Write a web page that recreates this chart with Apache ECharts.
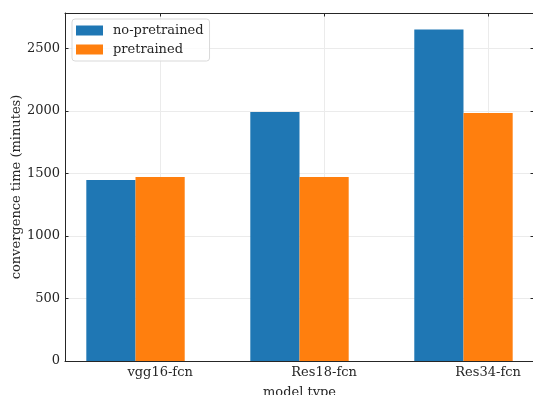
<!DOCTYPE html>
<html>
<head>
<meta charset="utf-8">
<script src="https://cdn.jsdelivr.net/npm/echarts@6/dist/echarts.min.js"></script>
<style>html,body{margin:0;padding:0;background:#fff}#c{width:533px;height:395px}</style>
</head>
<body>
<div id="c"></div>
<script>
const categories = ['vgg16-fcn', 'Res18-fcn', 'Res34-fcn'];
const noPretrained = [1447, 1990, 2651];
const pretrained = [1471, 1471, 1982];
const yTicks = [0, 500, 1000, 1500, 2000, 2500];
const seriesNames = ['no-pretrained', 'pretrained'];

const FONT = 'DejaVu Serif';
const TXT = '#262626';
const xIdx = categories.map((c, i) => i);
const yMax = 2782;
const xMin = -0.58, xMax = 2.28;

const chart = echarts.init(document.getElementById('c'), null, {renderer: 'canvas'});
const axisLine = {show: true, onZero: false, lineStyle: {color: '#262626', width: 1}};
chart.setOption({
  animation: false,
  textStyle: {fontFamily: FONT},
  grid: {left: 65, right: -1, top: 13, bottom: 34, containLabel: false, outerBoundsMode: 'none'},
  legend: {
    left: 72, top: 19, orient: 'vertical',
    data: seriesNames,
    itemWidth: 27, itemHeight: 10, itemGap: 6,
    padding: [5, 6, 5, 4],
    borderColor: '#d9d9d9', borderWidth: 1, borderRadius: 3,
    backgroundColor: 'rgba(255,255,255,0.8)',
    icon: 'rect',
    textStyle: {fontFamily: FONT, fontSize: 13, color: TXT, padding: [0, 0, 0, 5]}
  },
  xAxis: [{
    type: 'value', min: xMin, max: xMax, position: 'bottom',
    name: 'model type', nameLocation: 'middle', nameGap: 25, nameMoveOverlap: false,
    nameTextStyle: {fontFamily: FONT, fontSize: 13, color: TXT},
    axisLine: axisLine,
    axisTick: {show: true, inside: true, length: 3.5, customValues: xIdx, lineStyle: {color: '#262626'}},
    axisLabel: {show: true, customValues: xIdx, margin: 5, fontFamily: FONT, fontSize: 13, color: TXT,
      formatter: v => categories[Math.round(v)] || ''},
    splitLine: {show: true, lineStyle: {color: '#ebebeb', width: 1}}
  }, {
    type: 'value', min: xMin, max: xMax, position: 'top',
    axisLine: axisLine,
    axisTick: {show: true, inside: true, length: 3.5, customValues: xIdx, lineStyle: {color: '#262626'}},
    axisLabel: {show: false},
    splitLine: {show: false}
  }],
  yAxis: [{
    type: 'value', min: 0, max: yMax, position: 'left',
    name: 'convergence time (minutes)', nameLocation: 'middle', nameGap: 42, nameMoveOverlap: false,
    nameTextStyle: {fontFamily: FONT, fontSize: 13, color: TXT},
    axisLine: axisLine,
    axisTick: {show: true, inside: true, length: 3.5, customValues: yTicks, lineStyle: {color: '#262626'}},
    axisLabel: {show: true, customValues: yTicks, margin: 5, fontFamily: FONT, fontSize: 13, color: TXT,
      formatter: v => String(v)},
    splitLine: {show: true, lineStyle: {color: '#ebebeb', width: 1}}
  }, {
    type: 'value', min: 0, max: yMax, position: 'right',
    axisLine: axisLine,
    axisTick: {show: true, inside: true, length: 3.5, customValues: yTicks, lineStyle: {color: '#262626'}},
    axisLabel: {show: false},
    splitLine: {show: false}
  }],
  series: [{
    name: seriesNames[0], type: 'bar', xAxisIndex: 0, yAxisIndex: 0,
    barWidth: 49.2, barGap: '-100%',
    itemStyle: {color: '#1f77b4'},
    data: noPretrained.map((v, i) => [i - 0.3, v])
  }, {
    name: seriesNames[1], type: 'bar', xAxisIndex: 0, yAxisIndex: 0,
    barWidth: 49.2, barGap: '-100%',
    itemStyle: {color: '#ff7f0e'},
    data: pretrained.map((v, i) => [i, v])
  }]
});
</script>
</body>
</html>
